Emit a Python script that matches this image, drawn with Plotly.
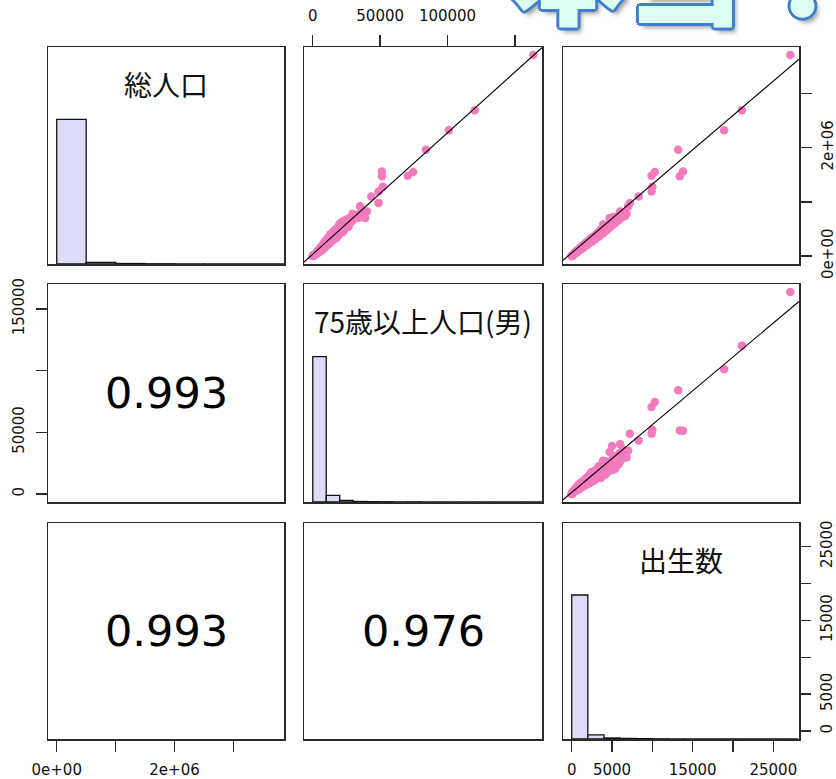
import plotly.graph_objects as go

# ---------------- data ----------------
var_names = ["総人口", "75歳以上人口(男)", "出生数"]

# total population / 75+ male population / births  (one entry per municipality)
total_pop = [3710000, 2690000, 2320000, 1960000, 1550000, 1480000, 1560000, 1470000, 1280000, 1190000,
             1100000, 980000, 920000, 820000, 700000, 800000, 740000, 720000, 720000, 700000,
             640000, 580000, 600000, 560000, 530000, 500000, 480000, 470000, 450000, 430000,
             410000, 400000, 390000, 370000, 350000, 340000, 320000, 300000, 290000, 270000,
             260000, 250000, 240000, 230000, 220000, 210000, 200000, 190000, 180000, 170000,
             160000, 150000, 140000, 130000, 120000, 110000, 100000, 95000, 90000, 80000,
             75000, 70000, 65000, 60000, 55000, 50000, 45000, 40000, 35000, 30000,
             27000, 24000, 20000, 17000, 14000, 11000, 9000, 7000, 5000, 3000,
             1500, 600, 200,
             620000, 550000, 520000, 490000, 460000, 440000, 420000, 380000, 360000, 330000,
             310000, 280000, 265000, 245000, 235000, 215000, 205000, 185000, 175000, 155000,
             145000, 125000, 115000, 105000, 85000, 68000, 58000, 42000, 32000, 22000,
             780000, 690000, 660000, 610000, 570000, 510000, 470000, 430000, 400000, 350000,
             330000, 300000, 270000, 240000, 210000, 190000, 160000, 130000, 110000, 90000,
             760000, 650000, 540000, 450000, 370000, 300000, 250000, 200000, 150000, 120000]
male75 = [163600, 120200, 101000, 84000, 74500, 70500, 51300, 51400, 52000, 48800,
          43400, 48800, 35200, 40200, 38900, 36000, 30000, 30500, 29000, 34000,
          22500, 27000, 24000, 21000, 24500, 22000, 21500, 18500, 20500, 17000,
          19500, 16000, 18000, 15000, 16500, 14000, 15500, 12500, 13800, 11500,
          12800, 10500, 11800, 9500, 10800, 9000, 10000, 8200, 9200, 7500,
          8400, 6800, 7600, 6000, 6900, 5300, 6100, 4600, 5400, 4200,
          4800, 3600, 4100, 3100, 3600, 2700, 3000, 2300, 2500, 1900,
          2000, 1500, 1400, 1100, 1000, 750, 650, 500, 380, 250,
          130, 50, 20,
          26000, 25500, 19000, 23500, 16500, 22000, 15000, 19000, 13500, 17500,
          11800, 14500, 10200, 13000, 8800, 11500, 8000, 10000, 7000, 9000,
          6200, 7600, 5000, 6600, 5000, 4400, 2800, 2700, 1700, 1600,
          29500, 26500, 24000, 20500, 19500, 18000, 16000, 14500, 13000, 12500,
          11000, 10500, 9000, 8500, 7500, 7000, 6000, 5200, 4300, 3500,
          33000, 29500, 26500, 22500, 18500, 15000, 12000, 9800, 7800, 6200]
births = [27100, 21100, 18900, 13200, 10300, 9900, 13800, 13400, 10000, 9900,
          8300, 7200, 7000, 6000, 5000, 6400, 6600, 5200, 6300, 4700,
          5300, 3900, 5000, 4600, 4000, 4100, 3700, 4300, 3500, 3800,
          3200, 3500, 3000, 3300, 2800, 3000, 2500, 2700, 2300, 2400,
          2000, 2200, 1900, 2000, 1700, 1800, 1500, 1600, 1400, 1450,
          1200, 1300, 1100, 1150, 900, 950, 800, 850, 700, 680,
          560, 600, 480, 520, 400, 430, 330, 350, 260, 270,
          200, 210, 150, 140, 100, 90, 60, 50, 30, 20,
          10, 4, 2,
          4800, 4200, 4700, 3600, 4000, 3300, 3900, 2900, 3400, 2400,
          2900, 2100, 2500, 1800, 2100, 1600, 1900, 1300, 1600, 1100,
          1350, 850, 1050, 750, 600, 450, 560, 300, 300, 160,
          6800, 6000, 5800, 5400, 5100, 4500, 4200, 3700, 3600, 3000,
          2800, 2600, 2300, 2100, 1800, 1700, 1400, 1100, 1000, 780,
          5900, 5100, 4200, 3400, 2800, 2200, 1800, 1400, 1100, 850]

# histogram bins (all municipalities)
hist_edges_pop = [0, 500000, 1000000, 1500000, 2000000, 2500000, 3000000, 3500000, 4000000]
hist_counts_pop = [1690, 20, 6, 3, 1, 1, 0, 1]
hist_edges_m75 = [0, 10000, 20000, 30000, 40000, 50000, 60000, 70000, 80000, 90000,
                  100000, 110000, 120000, 130000, 140000, 150000, 160000, 170000]
hist_counts_m75 = [1690, 78, 18, 6, 4, 3, 0, 2, 1, 0, 1, 0, 1, 0, 0, 0, 1]
hist_edges_birth = [0, 2000, 4000, 6000, 8000, 10000, 12000, 14000, 16000, 18000,
                    20000, 22000, 24000, 26000, 28000]
hist_counts_birth = [1700, 48, 12, 7, 4, 2, 1, 1, 0, 1, 1, 0, 0, 1]

# correlations shown in the lower panels: (row, col, text)
corr_cells = [(1, 0, "0.993"), (2, 0, "0.993"), (2, 1, "0.976")]

# regression lines in upper panels: (row, col, intercept, slope)
fit_lines = [(0, 1, 34000, 22.4), (0, 2, 56800, 126.9), (1, 2, 1250, 5.49)]

# axis ticks
pop_ticks = [0, 1000000, 2000000, 3000000]
pop_ticktext = ["0e+00", "", "2e+06", ""]
m75_ticks_top = [0, 50000, 100000, 150000]
m75_ticktext_top = ["0", "50000", "100000", ""]
m75_ticktext_left = ["0", "50000", "", "150000"]
birth_ticks = [0, 5000, 10000, 15000, 20000, 25000]
birth_ticktext = ["0", "5000", "", "15000", "", "25000"]

title_text = "本当！"

# ---------------- layout helpers ----------------
W, H = 836, 779
variables = [total_pop, male75, births]
hists = [(hist_edges_pop, hist_counts_pop), (hist_edges_m75, hist_counts_m75),
         (hist_edges_birth, hist_counts_birth)]

def pad_range(v):
    lo, hi = min(v), max(v)
    d = hi - lo
    return [lo - 0.04 * d, hi + 0.04 * d]

ranges = [pad_range(v) for v in variables]

col_px = [(48, 284), (304, 542), (563, 799)]
row_px = [(47, 264), (284, 502), (523, 739)]

BOX = "#2a2a2a"
PINK = "#F27BBD"
HISTFILL = "#DCDCF8"
TICKFONT = dict(family="DejaVu Sans, Liberation Sans, Arial", size=15, color="#111")

def kid(i, j):
    return 3 * i + j + 1

def ax_name(prefix, k):
    return prefix + ("" if k == 1 else str(k))

def ref(prefix, k):
    return prefix + ("" if k == 1 else str(k))

fig = go.Figure()
layout = dict(width=W, height=H, margin=dict(l=0, r=0, t=0, b=0, autoexpand=False), autosize=False,
              paper_bgcolor="white", plot_bgcolor="white", showlegend=False)

base_axis = dict(showgrid=False, zeroline=False, showline=True, mirror=True, linecolor=BOX,
                 linewidth=1.5, ticks="", showticklabels=False, fixedrange=True, automargin=False)

for i in range(3):
    for j in range(3):
        k = kid(i, j)
        xa = dict(base_axis, domain=[col_px[j][0] / W, col_px[j][1] / W], range=ranges[j],
                  anchor=ref("y", k))
        yr = [0, 1.5] if i == j else ranges[i]
        ya = dict(base_axis, domain=[1 - row_px[i][1] / H, 1 - row_px[i][0] / H], range=yr,
                  anchor=ref("x", k))
        layout[ax_name("xaxis", k)] = xa
        layout[ax_name("yaxis", k)] = ya

tick_common = dict(ticks="outside", ticklen=11, tickwidth=1.4, tickcolor=BOX,
                   showticklabels=True, tickfont=TICKFONT)

# column 1 bottom axis (panel 3,1)
layout["xaxis7"].update(tick_common, tickmode="array", tickvals=pop_ticks, ticktext=pop_ticktext,
                        side="bottom", ticklabelstandoff=5)
# column 2 top axis (panel 1,2)
layout["xaxis2"].update(tick_common, tickmode="array", tickvals=m75_ticks_top,
                        ticktext=m75_ticktext_top, side="top", ticklabelstandoff=8)
# column 3 bottom axis (panel 3,3)
layout["xaxis9"].update(tick_common, tickmode="array", tickvals=birth_ticks,
                        ticktext=birth_ticktext, side="bottom", ticklabelstandoff=5)
# row 1 right axis (panel 1,3)
layout["yaxis3"].update(tick_common, tickmode="array", tickvals=pop_ticks, ticktext=pop_ticktext,
                        side="right", tickangle=-90, ticklabelstandoff=3)
# row 2 left axis (panel 2,1)
layout["yaxis4"].update(tick_common, tickmode="array", tickvals=m75_ticks_top,
                        ticktext=m75_ticktext_left, side="left", tickangle=-90, ticklabelstandoff=6)
# row 3 right axis: births scale overlaid on histogram panel (3,3)
layout["yaxis10"] = dict(tick_common, overlaying="y9", anchor="x9", side="right", range=ranges[2],
                         tickmode="array", tickvals=birth_ticks, ticktext=birth_ticktext,
                         tickangle=-90, ticklabelstandoff=3, showgrid=False, zeroline=False,
                         showline=False, fixedrange=True, automargin=False)

# ---------------- traces ----------------
# histograms on the diagonal
for d in range(3):
    k = kid(d, d)
    edges, counts = hists[d]
    mx = max(counts)
    centers = [(edges[n] + edges[n + 1]) / 2 for n in range(len(counts))]
    widths = [edges[n + 1] - edges[n] for n in range(len(counts))]
    fig.add_trace(go.Bar(x=centers, y=[c / mx for c in counts], width=widths,
                         marker=dict(color=HISTFILL, line=dict(color="#111", width=1.3)),
                         xaxis=ref("x", k), yaxis=ref("y", k), hoverinfo="skip"))

# empty traces so that the overlay axis and the text-only panels are drawn
fig.add_trace(go.Scatter(x=[], y=[], xaxis="x9", yaxis="y10", mode="markers", hoverinfo="skip"))
for (i, j, t) in corr_cells:
    k = kid(i, j)
    fig.add_trace(go.Scatter(x=[], y=[], xaxis=ref("x", k), yaxis=ref("y", k),
                             mode="markers", hoverinfo="skip"))

# scatter points in the upper panels
for i in range(3):
    for j in range(i + 1, 3):
        k = kid(i, j)
        fig.add_trace(go.Scatter(x=variables[j], y=variables[i], mode="markers",
                                 marker=dict(color=PINK, size=8.5, line=dict(width=0)),
                                 xaxis=ref("x", k), yaxis=ref("y", k), hoverinfo="skip"))

# regression lines
for (i, j, a, b) in fit_lines:
    k = kid(i, j)
    xs = ranges[j]
    fig.add_trace(go.Scatter(x=xs, y=[a + b * x for x in xs], mode="lines",
                             line=dict(color="black", width=1.1),
                             xaxis=ref("x", k), yaxis=ref("y", k), hoverinfo="skip"))

# ---------------- annotations ----------------
annotations = []
for d in range(3):
    k = kid(d, d)
    annotations.append(dict(text=var_names[d], xref=ref("x", k) + " domain", yref=ref("y", k) + " domain",
                            x=0.5, y=0.83, xanchor="center", yanchor="middle", showarrow=False,
                            font=dict(family="Noto Sans CJK JP", size=28, color="#111")))
for (i, j, t) in corr_cells:
    k = kid(i, j)
    annotations.append(dict(text=t, xref=ref("x", k) + " domain", yref=ref("y", k) + " domain",
                            x=0.5, y=0.5, xanchor="center", yanchor="middle", showarrow=False,
                            font=dict(family="DejaVu Sans, Liberation Sans, Arial", size=43, color="black")))

blue = "#3F7FCC"
shadow = ", ".join([f"{dx}px {dy}px 0 {blue}" for dx, dy in
                    [(3, 0), (-3, 0), (0, 3), (0, -3), (2, 2), (-2, 2), (2, -2), (-2, -2)]]
                   + ["4px 5px 4px rgba(0,0,0,0.35)"])
annotations.append(dict(text=title_text, xref="paper", yref="paper", x=685 / W, y=1 + 35 / H,
                        xanchor="center", yanchor="middle", showarrow=False,
                        font=dict(family="Noto Sans CJK JP", size=117, color="#DEFBF2",
                                  weight=900, shadow=shadow)))
layout["annotations"] = annotations

fig.update_layout(**layout)
fig.write_html("out.html", config=dict(displayModeBar=False, staticPlot=True),
               post_script="document.body.style.margin='0';document.body.style.overflow='hidden';")
